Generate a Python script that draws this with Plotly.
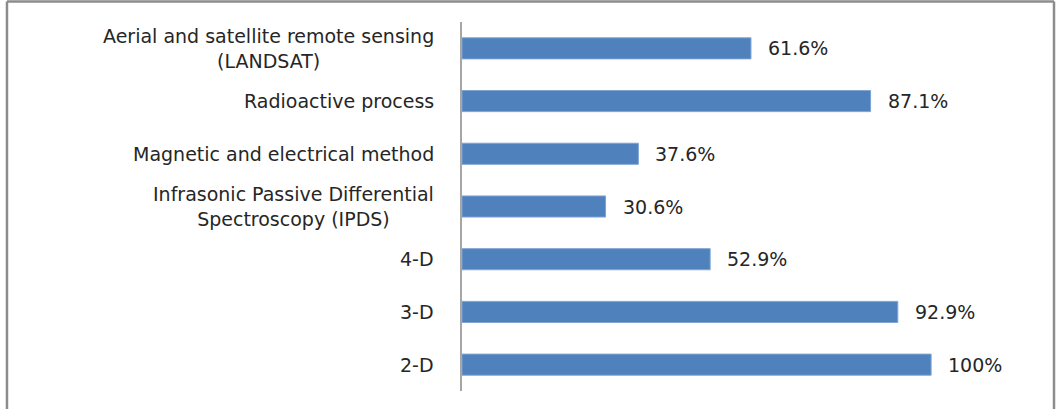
import plotly.graph_objects as go

# Exploration methods and the share of respondents using each (top to bottom)
categories = [
    "Aerial and satellite remote sensing<br>(LANDSAT)",
    "Radioactive process",
    "Magnetic and electrical method",
    "Infrasonic Passive Differential<br>Spectroscopy (IPDS)",
    "4-D",
    "3-D",
    "2-D",
]
values = [61.6, 87.1, 37.6, 30.6, 52.9, 92.9, 100]
value_labels = [f"{v:g}%" for v in values]

BAR_COLOR = "#4F81BD"
TEXT_COLOR = "#262626"
FONT = "DejaVu Sans"
FONT_SIZE = 19

fig = go.Figure(
    go.Bar(
        x=values,
        y=categories,
        orientation="h",
        marker=dict(color=BAR_COLOR, line=dict(color="#7EA4D3", width=1)),
        hoverinfo="skip",
    )
)

# Value labels to the right of each bar
for cat, v, lab in zip(categories, values, value_labels):
    fig.add_annotation(
        x=v, y=cat, xref="x", yref="y", text=lab, showarrow=False,
        xanchor="left", yanchor="middle", xshift=15,
        font=dict(family=FONT, size=FONT_SIZE, color=TEXT_COLOR),
    )

# Category labels, right-aligned against the axis with centred lines
for cat in categories:
    fig.add_annotation(
        x=0, y=cat, xref="paper", yref="y", text=cat, showarrow=False,
        xanchor="right", yanchor="middle", align="center", xshift=-26,
        font=dict(family=FONT, size=FONT_SIZE, color=TEXT_COLOR),
    )

# Outer frame (left, top, right edges)
frame = dict(type="line", xref="paper", yref="paper",
             line=dict(color="#8C8C8C", width=2.5), layer="above")
fig.add_shape(x0=-0.7886, x1=-0.7886, y0=1.0556, y1=-0.1, **frame)
fig.add_shape(x0=-0.7886, x1=1.026, y0=1.0556, y1=1.0556, **frame)
fig.add_shape(x0=1.026, x1=1.026, y0=1.0556, y1=-0.1, **frame)

fig.update_layout(
    width=1057,
    height=409,
    margin=dict(l=462, r=18, t=22, b=18),
    paper_bgcolor="white",
    plot_bgcolor="white",
    bargap=0.6,
    showlegend=False,
    xaxis=dict(range=[0, 123], visible=False, fixedrange=True),
    yaxis=dict(
        autorange="reversed",
        showticklabels=False,
        showgrid=False,
        zeroline=False,
        showline=True,
        linecolor="#A6A6A6",
        linewidth=1.5,
        ticks="",
        fixedrange=True,
    ),
)

fig.write_html("out.html")
